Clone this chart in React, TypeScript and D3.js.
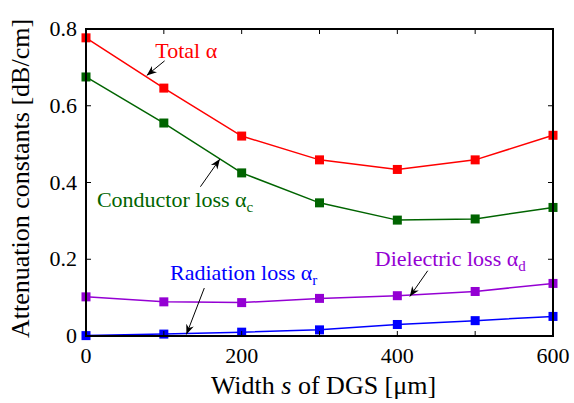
import React, { useEffect, useRef } from 'react';
import * as d3 from 'd3';

const widths = [0, 100, 200, 300, 400, 500, 600];
const totalLoss = [0.777, 0.646, 0.521, 0.459, 0.434, 0.459, 0.523];
const conductorLoss = [0.675, 0.555, 0.425, 0.347, 0.302, 0.305, 0.335];
const dielectricLoss = [0.102, 0.089, 0.087, 0.098, 0.105, 0.116, 0.137];
const radiationLoss = [0.001, 0.005, 0.010, 0.016, 0.030, 0.040, 0.051];
const xTicks = [0, 200, 400, 600];
const xMinorTicks = [100, 300, 500];
const yTicks = [0, 0.2, 0.4, 0.6, 0.8];

interface SeriesLabel {
    values: number[];
    color: string;
    text: string;
    sub: string;
    lx: number; ly: number; // label position, in data units
    ax: [number, number]; // arrow start (data units)
    bx: [number, number]; // arrow tip (data units)
}

const series: SeriesLabel[] = [
    { values: totalLoss, color: '#ff0000', text: 'Total α', sub: '', lx: 89, ly: 0.724, ax: [101, 0.717], bx: [78, 0.679] },
    { values: conductorLoss, color: '#006400', text: 'Conductor loss α', sub: 'c', lx: 14, ly: 0.337, ax: [147, 0.389], bx: [172, 0.461] },
    { values: dielectricLoss, color: '#9400d3', text: 'Dielectric loss α', sub: 'd', lx: 371, ly: 0.182, ax: [439, 0.17], bx: [416, 0.103] },
    { values: radiationLoss, color: '#0000ff', text: 'Radiation loss α', sub: 'r', lx: 108, ly: 0.146, ax: [152, 0.125], bx: [129, 0.004] },
];

const W = 574;
const H = 403;
const font = '"Liberation Serif", "DejaVu Serif", serif';

export default function App() {
    const svgRef = useRef<SVGSVGElement>(null);

    useEffect(() => {
        if (!svgRef.current) return;
        const svg = d3.select(svgRef.current);
        svg.selectAll('*').remove();

        const margin = { top: 29, right: 21, bottom: 67, left: 86 };
        const innerWidth = W - margin.left - margin.right;
        const innerHeight = H - margin.top - margin.bottom;

        const x = d3.scaleLinear().domain([0, 600]).range([0, innerWidth]);
        const y = d3.scaleLinear().domain([0, 0.8]).range([innerHeight, 0]);

        const defs = svg.append('defs');
        defs.append('marker')
            .attr('id', 'arrowhead')
            .attr('viewBox', '0 0 10 10')
            .attr('refX', 10)
            .attr('refY', 5)
            .attr('markerWidth', 10)
            .attr('markerHeight', 10)
            .attr('markerUnits', 'userSpaceOnUse')
            .attr('orient', 'auto')
            .append('path')
            .attr('d', 'M0,1 L10,5 L0,9 L3,5 Z')
            .attr('fill', '#000');

        const g = svg.append('g').attr('transform', `translate(${margin.left},${margin.top})`);

        // Lines + square markers
        series.forEach(s => {
            const line = d3.line<number>()
                .x((_, i) => x(widths[i]))
                .y(d => y(d));
            g.append('path')
                .datum(s.values)
                .attr('fill', 'none')
                .attr('stroke', s.color)
                .attr('stroke-width', 1.5)
                .attr('d', line);
            g.selectAll(null)
                .data(s.values)
                .enter()
                .append('rect')
                .attr('x', (_, i) => x(widths[i]) - 4.5)
                .attr('y', d => y(d) - 4.5)
                .attr('width', 9)
                .attr('height', 9)
                .attr('fill', s.color);
        });

        // Frame
        g.append('rect')
            .attr('width', innerWidth)
            .attr('height', innerHeight)
            .attr('fill', 'none')
            .attr('stroke', '#000')
            .attr('stroke-width', 2);

        // Ticks (inward, all four sides)
        const tickLen = 5;
        [...xTicks, ...xMinorTicks].forEach(t => {
            g.append('line').attr('x1', x(t)).attr('x2', x(t)).attr('y1', innerHeight).attr('y2', innerHeight - tickLen).attr('stroke', '#000');
            g.append('line').attr('x1', x(t)).attr('x2', x(t)).attr('y1', 0).attr('y2', tickLen).attr('stroke', '#000');
        });
        yTicks.forEach(t => {
            g.append('line').attr('x1', 0).attr('x2', tickLen).attr('y1', y(t)).attr('y2', y(t)).attr('stroke', '#000');
            g.append('line').attr('x1', innerWidth).attr('x2', innerWidth - tickLen).attr('y1', y(t)).attr('y2', y(t)).attr('stroke', '#000');
        });

        // Tick labels
        g.selectAll(null)
            .data(xTicks)
            .enter()
            .append('text')
            .attr('x', d => x(d))
            .attr('y', innerHeight + 27)
            .attr('text-anchor', 'middle')
            .style('font-family', font)
            .style('font-size', '22px')
            .text(d => String(d));

        g.selectAll(null)
            .data(yTicks)
            .enter()
            .append('text')
            .attr('x', -9)
            .attr('y', d => y(d) + 7)
            .attr('text-anchor', 'end')
            .style('font-family', font)
            .style('font-size', '22px')
            .text(d => (d === 0 ? '0' : d.toFixed(1)));

        // Axis titles
        const xt = svg.append('text')
            .attr('x', margin.left + innerWidth / 2 + 4)
            .attr('y', 394)
            .attr('text-anchor', 'middle')
            .style('font-family', font)
            .style('font-size', '26px');
        xt.append('tspan').text('Width ');
        xt.append('tspan').style('font-style', 'italic').text('s');
        xt.append('tspan').text(' of DGS [μm]');

        svg.append('text')
            .attr('transform', `translate(29,${margin.top + innerHeight / 2 - 4}) rotate(-90)`)
            .attr('text-anchor', 'middle')
            .style('font-family', font)
            .style('font-size', '26px')
            .text('Attenuation constants [dB/cm]');

        // Series labels + arrows
        series.forEach(s => {
            const t = g.append('text')
                .attr('x', x(s.lx))
                .attr('y', y(s.ly))
                .attr('fill', s.color)
                .style('font-family', font)
                .style('font-size', '22px');
            t.append('tspan').text(s.text);
            if (s.sub) {
                t.append('tspan').attr('dy', 5).style('font-size', '15px').text(s.sub);
            }
            g.append('line')
                .attr('x1', x(s.ax[0]))
                .attr('y1', y(s.ax[1]))
                .attr('x2', x(s.bx[0]))
                .attr('y2', y(s.bx[1]))
                .attr('stroke', '#000')
                .attr('stroke-width', 1)
                .attr('marker-end', 'url(#arrowhead)');
        });
    }, []);

    return (
        <svg
            ref={svgRef}
            width={W}
            height={H}
            style={{ position: 'absolute', left: 0, top: 0, background: '#fff' }}
        />
    );
}
